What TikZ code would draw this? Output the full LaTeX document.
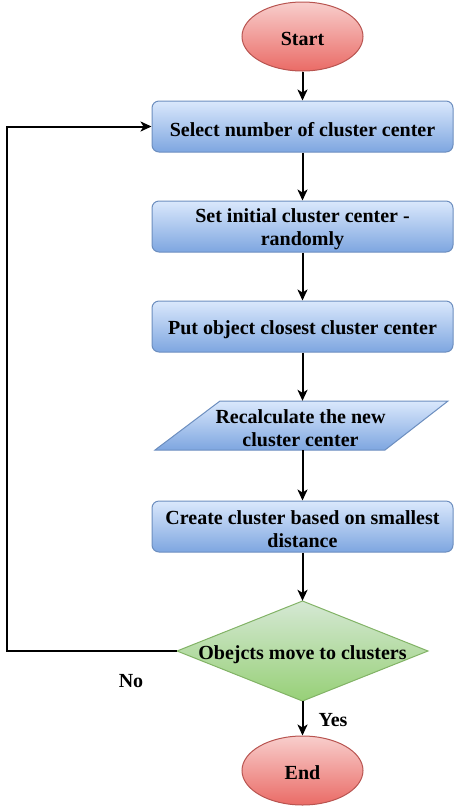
\documentclass[tikz,border=0pt]{standalone}
\usepackage{fontspec}
\setmainfont{Liberation Serif}
\usetikzlibrary{shapes.geometric,arrows.meta}
\definecolor{bluetop}{HTML}{DAE8FC}
\definecolor{bluebot}{HTML}{7EA6E0}
\definecolor{blueline}{HTML}{6C8EBF}
\definecolor{redtop}{HTML}{F8CECC}
\definecolor{redbot}{HTML}{EA6B66}
\definecolor{redline}{HTML}{B85450}
\definecolor{greentop}{HTML}{D5E8D4}
\definecolor{greenbot}{HTML}{97D077}
\definecolor{greenline}{HTML}{82B366}
\begin{document}
\begin{tikzpicture}[x=1pt,y=-1pt,
  every node/.style={font=\bfseries\fontsize{20}{23}\selectfont, align=center},
  term/.style={ellipse, draw=redline, line width=1pt, top color=redtop, bottom color=redbot, minimum width=121pt, minimum height=69pt, inner sep=0pt},
  proc/.style={rectangle, rounded corners=7pt, draw=blueline, line width=1pt, top color=bluetop, bottom color=bluebot, minimum width=301pt, minimum height=51pt, inner sep=0pt},
  plain/.style={inner sep=0pt},
  txt/.style={inner sep=0pt, yshift=-3pt},
  conn/.style={line width=2pt, -{Stealth[length=11pt,width=10pt,inset=3pt]}}
]
\useasboundingbox (0,0) rectangle (454,807);

\node[term, label={[txt, yshift=1pt]center:Start}] (start) at (302.5,36.5) {};
\node[proc, label={[txt]center:Select number of cluster center}] (r1) at (302.5,126.5) {};
\node[proc, label={[txt]center:Set initial cluster center -\\randomly}] (r2) at (302.5,226.5) {};
\node[proc, label={[txt]center:Put object closest cluster center}] (r3) at (302.5,326.5) {};

\shade[draw=blueline, line width=1pt, top color=bluetop, bottom color=bluebot]
  (220,401) -- (448,401) -- (385,450) -- (155,450) -- cycle;
\node[plain, minimum width=228pt, minimum height=49pt, label={[txt]center:Recalculate the new\\cluster center}] (para) at (300.5,425.5) {};

\node[proc, label={[txt]center:Create cluster based on smallest\\distance}] (r5) at (302.5,526.5) {};

\shade[draw=greenline, line width=1pt, top color=greentop, bottom color=greenbot]
  (302.5,601) -- (428,651) -- (302.5,701) -- (177,651) -- cycle;
\node[plain, minimum width=251pt, minimum height=100pt, label={[txt, yshift=-1pt]center:Obejcts move to clusters}] (dia) at (302.5,651) {};

\node[term, label={[txt, yshift=1pt]center:End}] (end) at (302.5,770.5) {};

\node[plain] (no) at (131,681) {No};
\node[plain] (yes) at (333,720) {Yes};

\coordinate (loopc) at (7,651);

\draw[conn] (start.south) -- (r1.north);
\draw[conn] (r1.south) -- (r2.north);
\draw[conn] (r2.south) -- (r3.north);
\draw[conn] (r3.south) -- (r3.south |- para.north);
\draw[conn] (r5.north |- para.south) -- (r5.north);
\draw[conn] (r5.south) -- (dia.north);
\draw[conn] (dia.south) -- (end.north);
\draw[conn] (dia.west) -- (loopc) |- (r1.west);
\end{tikzpicture}
\end{document}
